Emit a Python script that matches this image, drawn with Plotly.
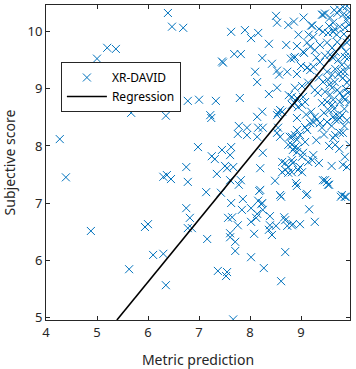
import plotly.graph_objects as go

# Scatter data: (metric prediction, subjective score)
points = [
    (4.27, 8.12), (4.39, 7.45), (4.88, 6.51), (5.00, 9.53), (5.20, 9.72), (5.37, 9.70),
    (5.67, 8.58), (5.63, 5.84), (5.94, 6.58), (6.00, 6.63), (6.10, 6.09), (6.30, 6.11),
    (6.35, 5.56), (6.35, 8.53), (6.39, 10.33), (6.47, 10.09), (6.69, 10.07), (6.30, 7.46),
    (6.37, 7.49), (6.45, 7.42), (6.78, 8.79), (7.00, 8.81), (7.33, 8.79), (7.22, 8.54),
    (7.24, 8.49), (6.98, 7.98), (7.25, 7.82), (7.31, 7.77), (7.45, 7.93), (7.63, 7.98),
    (7.61, 7.84), (7.51, 7.65), (7.55, 7.61), (7.67, 7.63), (6.75, 7.63), (6.78, 7.37),
    (7.35, 7.51), (7.61, 7.40), (7.14, 7.19), (7.43, 7.18), (7.63, 7.00), (6.75, 6.91),
    (6.82, 6.74), (7.57, 6.74), (7.65, 6.75), (6.78, 6.56), (6.86, 6.56), (7.61, 6.47),
    (7.78, 7.32), (8.18, 7.21), (8.20, 7.23), (8.92, 7.30), (9.55, 7.32), (7.86, 7.07),
    (7.84, 6.88), (8.16, 7.04), (8.22, 6.98), (8.02, 6.91), (8.25, 6.88), (8.14, 6.81),
    (8.12, 6.74), (8.39, 6.77), (8.61, 7.11), (9.10, 7.14), (9.16, 6.89), (9.78, 7.11),
    (9.88, 7.11), (7.76, 6.61), (8.02, 6.67), (8.39, 6.61), (8.37, 6.53), (8.43, 6.44),
    (8.51, 6.60), (8.67, 6.75), (8.69, 6.70), (8.73, 6.60), (8.84, 6.63), (8.98, 6.63),
    (9.27, 6.67), (7.16, 6.37), (7.61, 6.40), (7.71, 6.32), (8.08, 6.46), (7.71, 6.16),
    (8.02, 6.05), (8.69, 6.14), (7.37, 5.81), (7.55, 5.79), (7.53, 5.72), (8.27, 5.86),
    (8.61, 5.63), (7.67, 4.96), (8.82, 6.61),
    (7.63, 10.00), (7.90, 10.03), (8.16, 9.98), (8.02, 9.89), (8.51, 10.28), (8.53, 10.16),
    (8.75, 10.12), (8.86, 10.18), (9.20, 10.11), (9.43, 10.30), (8.37, 9.79), (8.71, 9.77),
    (8.92, 9.75), (9.12, 9.81), (7.69, 9.61), (7.82, 9.61), (7.45, 9.48), (7.47, 9.46),
    (8.24, 9.54), (8.43, 9.44), (8.80, 9.53), (8.88, 9.56), (9.06, 9.63), (8.10, 9.30),
    (8.14, 9.12), (8.53, 9.32), (8.57, 9.25), (8.73, 9.30), (8.92, 9.26), (9.12, 9.37),
    (8.37, 8.91), (8.53, 9.02), (8.76, 8.89), (8.82, 8.86), (7.80, 8.84), (8.14, 8.51),
    (8.24, 8.60), (8.55, 8.58), (8.59, 8.63), (8.63, 8.60), (8.53, 8.54), (7.78, 8.35),
    (7.94, 8.32), (7.76, 8.21), (7.94, 8.19), (8.16, 8.32), (8.14, 8.16), (8.25, 8.32),
    (8.55, 8.32), (8.59, 8.16), (8.53, 8.23), (8.78, 8.16), (8.75, 8.02), (8.82, 8.02),
    (8.25, 7.88), (8.20, 7.61), (8.63, 7.72), (8.69, 7.70), (8.75, 7.63), (8.63, 7.54),
    (8.69, 7.58), (8.75, 7.53), (8.49, 7.39), (8.59, 7.14), (7.82, 7.40), (8.90, 7.35),
    (9.47, 7.40), (8.24, 7.00),
    (9.41, 10.30), (9.47, 10.32), (9.22, 10.11), (9.57, 10.25), (9.63, 10.16), (9.71, 10.33),
    (9.76, 10.39), (9.82, 10.44), (9.90, 10.45), (9.82, 10.30), (9.92, 10.26), (9.43, 10.00),
    (9.53, 9.98), (9.63, 10.00), (9.24, 9.91), (9.76, 10.09), (9.86, 10.07), (9.94, 10.12),
    (9.04, 9.65), (9.18, 9.74), (9.27, 9.68), (9.37, 9.77), (9.51, 9.81), (9.61, 9.72),
    (9.71, 9.82), (9.80, 9.74), (9.90, 9.81), (9.95, 9.86), (8.86, 9.54), (9.37, 9.47),
    (9.63, 9.54), (9.73, 9.51), (9.86, 9.56), (9.80, 9.42), (9.92, 9.39), (9.12, 9.37),
    (9.18, 9.33), (9.24, 9.39), (9.51, 9.30), (9.61, 9.25), (9.43, 9.12), (9.53, 9.16),
    (9.73, 9.25), (9.82, 9.19), (9.90, 9.11), (9.95, 9.16), (8.88, 9.02), (9.02, 9.05),
    (9.14, 9.11), (9.27, 8.98), (9.33, 8.93), (9.61, 9.02), (9.71, 8.98), (9.76, 8.93),
    (9.82, 8.86), (9.92, 8.93), (8.92, 8.84), (9.04, 8.86),
    (8.82, 8.72), (8.88, 8.75), (8.94, 8.68), (9.02, 8.72), (9.08, 8.77), (9.41, 8.75),
    (9.51, 8.77), (9.61, 8.72), (9.63, 8.81), (9.76, 8.77), (9.86, 8.81), (9.95, 8.77),
    (8.92, 8.49), (9.27, 8.51), (9.31, 8.46), (9.24, 8.42), (9.18, 8.40), (9.37, 8.40),
    (9.41, 8.32), (9.63, 8.51), (9.71, 8.54), (9.76, 8.49), (9.73, 8.46), (9.67, 8.46),
    (9.80, 8.54), (9.51, 8.42), (9.08, 8.33), (9.12, 8.28), (8.92, 8.28), (8.98, 8.19),
    (8.88, 8.19), (8.82, 8.16), (8.92, 8.11), (9.67, 8.19), (9.63, 8.14), (9.67, 8.02),
    (9.76, 8.23), (9.82, 8.23), (9.95, 8.02), (8.88, 7.98), (8.94, 7.96), (8.84, 7.93),
    (8.92, 7.89), (9.08, 8.07), (9.02, 7.81), (9.04, 7.88), (9.24, 7.84), (9.22, 7.75),
    (9.14, 7.72), (8.82, 7.75), (8.84, 7.70), (9.86, 7.81), (9.82, 7.67), (9.90, 7.63),
    (8.98, 7.63), (8.94, 7.58), (9.02, 7.54), (8.82, 7.54), (9.43, 7.40), (9.51, 7.37),
    (9.53, 7.32), (9.12, 7.16), (9.80, 7.14), (9.86, 7.11),
    (9.66, 10.05), (9.70, 9.95), (9.84, 9.96), (9.90, 10.20), (9.88, 9.65), (9.93, 9.55),
    (9.68, 9.65), (9.57, 9.60), (9.47, 9.58), (9.78, 9.30), (9.67, 9.35), (9.86, 9.30),
    (9.56, 9.08), (9.66, 9.12), (9.88, 9.00), (9.47, 8.95), (9.57, 8.90), (9.35, 9.20),
    (9.30, 9.55), (9.15, 9.95), (9.35, 10.05), (9.55, 10.10), (9.65, 10.38), (9.95, 10.35),
    (9.45, 8.58), (9.55, 8.62), (9.65, 8.65), (9.85, 8.65), (9.90, 8.45), (9.60, 8.35),
    (9.85, 8.35), (9.45, 8.20), (9.30, 8.10), (9.55, 8.00), (9.75, 7.95), (9.35, 7.70),
    (9.60, 7.65), (9.20, 8.60), (9.10, 8.55), (9.00, 9.40), (8.95, 9.95), (9.05, 10.25),
]
metric_prediction = [p[0] for p in points]
subjective_score = [p[1] for p in points]

# Regression line endpoints
regression_x = [5.39, 9.96]
regression_y = [4.95, 9.95]

x_ticks = [4, 5, 6, 7, 8, 9]
y_ticks = [5, 6, 7, 8, 9, 10]

blue = "#0072BD"
axis_col = "#262626"
font_family = "Noto Sans, Open Sans, DejaVu Sans, sans-serif"

fig = go.Figure()
fig.add_trace(go.Scatter(
    x=metric_prediction, y=subjective_score, mode="markers", name="XR-DAVID",
    marker=dict(symbol="x-thin", size=8, line=dict(width=1, color=blue), color=blue),
))
fig.add_trace(go.Scatter(
    x=regression_x, y=regression_y, mode="lines", name="Regression",
    line=dict(color="black", width=1.6),
))

axis_common = dict(
    showline=True, linecolor=axis_col, linewidth=1, mirror="ticks",
    ticks="inside", ticklen=4, tickcolor=axis_col, tickwidth=1,
    showgrid=False, zeroline=False, automargin=False,
    tickfont=dict(size=13, color=axis_col, family=font_family),
)
fig.update_xaxes(range=[4, 9.96], tickvals=x_ticks,
                 title=dict(text="Metric prediction", font=dict(size=14, color=axis_col, family=font_family)),
                 **axis_common)
fig.update_yaxes(range=[4.95, 10.47], tickvals=y_ticks,
                 title=dict(text="Subjective score", font=dict(size=14, color=axis_col, family=font_family)),
                 **axis_common)

fig.update_layout(
    width=356, height=369,
    margin=dict(l=46, r=6, t=5, b=49),
    plot_bgcolor="white", paper_bgcolor="white",
    font=dict(family=font_family, color=axis_col),
    legend=dict(x=0.049, y=0.819, xanchor="left", yanchor="top",
                bgcolor="white", bordercolor=axis_col, borderwidth=1,
                font=dict(size=12, color="black", family=font_family),
                itemwidth=40, tracegroupgap=0),
    showlegend=True,
)

fig.write_html("out.html", config={"displayModeBar": False},
               post_script="document.body.style.margin='0';document.body.style.overflow='hidden';")
